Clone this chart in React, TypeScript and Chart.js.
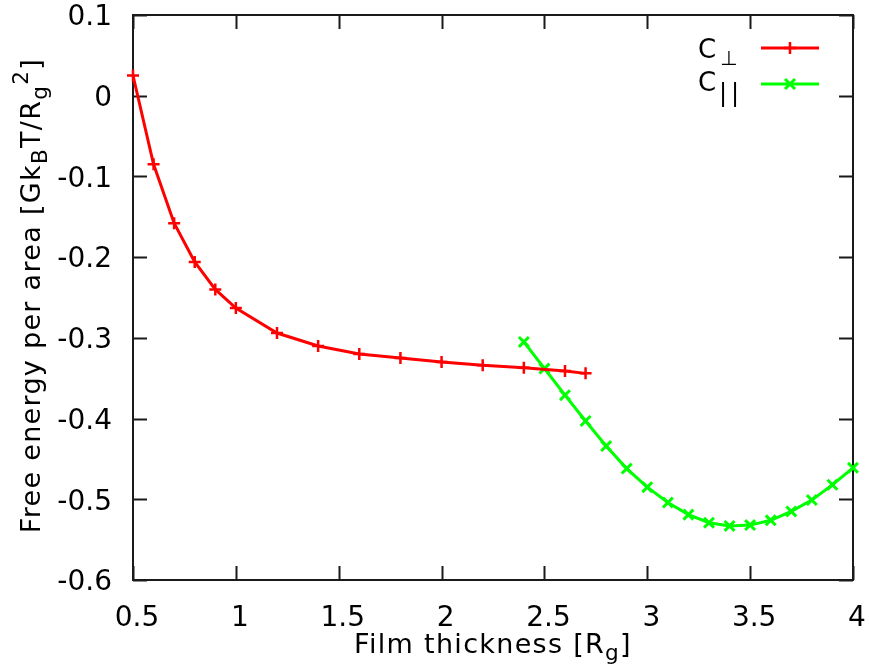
import React, { useEffect, useRef } from "react";
import { Chart, registerables } from "chart.js";

Chart.register(...registerables);

// ---- data ----
const perpX = [0.5, 0.6, 0.7, 0.8, 0.9, 1.0, 1.2, 1.4, 1.6, 1.8, 2.0, 2.2, 2.4, 2.6, 2.7];
const perpY = [0.025, -0.085, -0.158, -0.206, -0.240, -0.263, -0.294, -0.310, -0.320, -0.325, -0.330, -0.334, -0.337, -0.341, -0.344];

const paraX = [2.4, 2.5, 2.6, 2.7, 2.8, 2.9, 3.0, 3.1, 3.2, 3.3, 3.4, 3.5, 3.6, 3.7, 3.8, 3.9, 4.0];
const paraY = [-0.305, -0.338, -0.371, -0.403, -0.434, -0.462, -0.485, -0.504, -0.519, -0.529, -0.533, -0.532, -0.526, -0.515, -0.501, -0.482, -0.461];

const xTicks = [0.5, 1, 1.5, 2, 2.5, 3, 3.5, 4];
const yTicks = [-0.6, -0.5, -0.4, -0.3, -0.2, -0.1, 0, 0.1];

const FONT = '"DejaVu Sans", "Noto Sans", sans-serif';
const RED = "#ff0000";
const GREEN = "#00ff00";
const AXIS = "#1a1a1a";

type Seg = { t: string; m?: "sub" | "sup" };

function drawRich(ctx: CanvasRenderingContext2D, segs: Seg[], cx: number, baseY: number, size: number, align: "center" | "left" = "center", spacing = 1.3) {
  (ctx as any).letterSpacing = `${spacing}px`;
  const parts = segs.map((s) => {
    const sz = s.m ? size * 0.8 : size;
    ctx.font = `${sz}px ${FONT}`;
    return { ...s, sz, w: ctx.measureText(s.t).width };
  });
  const total = parts.reduce((a, p) => a + p.w, 0);
  let x = align === "center" ? cx - total / 2 : cx;
  ctx.textAlign = "left";
  ctx.textBaseline = "alphabetic";
  ctx.fillStyle = "#000";
  for (const p of parts) {
    ctx.font = `${p.sz}px ${FONT}`;
    const dy = p.m === "sub" ? size * 0.27 : p.m === "sup" ? -size * 0.45 : 0;
    ctx.fillText(p.t, x, baseY + dy);
    x += p.w;
  }
  (ctx as any).letterSpacing = "0px";
}

const decor = {
  id: "decor",
  beforeDatasetsDraw(chart: any) {
    const { ctx, chartArea: a, scales } = chart;
    ctx.save();
    ctx.strokeStyle = AXIS;
    ctx.lineWidth = 2;
    ctx.strokeRect(a.left, a.top, a.right - a.left, a.bottom - a.top);
    const tl = 14;
    ctx.beginPath();
    for (const v of xTicks) {
      const px = Math.round(scales.x.getPixelForValue(v)) + 0.5;
      ctx.moveTo(px, a.bottom);
      ctx.lineTo(px, a.bottom - tl);
      ctx.moveTo(px, a.top);
      ctx.lineTo(px, a.top + tl);
    }
    for (const v of yTicks) {
      const py = Math.round(scales.y.getPixelForValue(v)) + 0.5;
      ctx.moveTo(a.left, py);
      ctx.lineTo(a.left + tl, py);
      ctx.moveTo(a.right, py);
      ctx.lineTo(a.right - tl, py);
    }
    ctx.stroke();
    ctx.restore();
  },
  afterDraw(chart: any) {
    const { ctx, chartArea: a } = chart;
    ctx.save();
    // axis titles
    drawRich(ctx, [{ t: "Film thickness [R" }, { t: "g", m: "sub" }, { t: "]" }], (a.left + a.right) / 2, 653, 27);
    ctx.save();
    ctx.translate(40, (a.top + a.bottom) / 2 - 2);
    ctx.rotate(-Math.PI / 2);
    drawRich(
      ctx,
      [
        { t: "Free energy per area [Gk" },
        { t: "B", m: "sub" },
        { t: "T/R" },
        { t: "g", m: "sub" },
        { t: "2", m: "sup" },
        { t: "]" },
      ],
      0,
      0,
      27
    );
    ctx.restore();

    // legend
    const lx0 = a.right - 92;
    const lx1 = a.right - 34;
    const mx = (lx0 + lx1) / 2;
    const y1 = a.top + 33;
    const y2 = a.top + 69;
    drawRich(ctx, [{ t: "C" }], 698, 58, 26, "left", 0);
    ctx.font = `20px ${FONT}`;
    ctx.fillText("\u22A5", 720, 65);
    drawRich(ctx, [{ t: "C" }], 698, 91, 26, "left", 0);
    // subscript "||" of C|| kept as real text glyphs
    ctx.fillStyle = "#000";
    ctx.font = `24px ${FONT}`;
    ctx.fillText("|", 719, 101);
    ctx.fillText("|", 731, 101);

    ctx.lineWidth = 3;
    ctx.strokeStyle = RED;
    ctx.beginPath();
    ctx.moveTo(lx0, y1);
    ctx.lineTo(lx1, y1);
    ctx.stroke();
    ctx.lineWidth = 2.5;
    ctx.beginPath();
    ctx.moveTo(mx - 6, y1);
    ctx.lineTo(mx + 6, y1);
    ctx.moveTo(mx, y1 - 6);
    ctx.lineTo(mx, y1 + 6);
    ctx.stroke();

    ctx.lineWidth = 3;
    ctx.strokeStyle = GREEN;
    ctx.beginPath();
    ctx.moveTo(lx0, y2);
    ctx.lineTo(lx1, y2);
    ctx.stroke();
    ctx.lineWidth = 3;
    ctx.beginPath();
    ctx.moveTo(mx - 5, y2 - 5);
    ctx.lineTo(mx + 5, y2 + 5);
    ctx.moveTo(mx - 5, y2 + 5);
    ctx.lineTo(mx + 5, y2 - 5);
    ctx.stroke();
    ctx.restore();
  },
};

const fmt = (v: number) => String(Number(v.toFixed(2)));

const noPad = (s: any) => {
  s.paddingTop = 0;
  s.paddingBottom = 0;
  s.paddingLeft = 0;
  s.paddingRight = 0;
};

export default function App() {
  const ref = useRef<HTMLCanvasElement | null>(null);
  useEffect(() => {
    if (!ref.current) return;
    const chart = new Chart(ref.current, {
      type: "line",
      data: {
        datasets: [
          {
            label: "C\u22A5",
            data: perpX.map((x, i) => ({ x, y: perpY[i] })),
            borderColor: RED,
            backgroundColor: RED,
            borderWidth: 3,
            pointStyle: "cross",
            pointRadius: 6,
            pointBorderWidth: 2.5,
            pointBorderColor: RED,
            tension: 0,
            clip: false as any,
          },
          {
            label: "C||",
            data: paraX.map((x, i) => ({ x, y: paraY[i] })),
            borderColor: GREEN,
            backgroundColor: GREEN,
            borderWidth: 3,
            pointStyle: "crossRot",
            pointRadius: 7,
            pointBorderWidth: 3,
            pointBorderColor: GREEN,
            tension: 0,
            clip: false as any,
          },
        ],
      },
      options: {
        animation: false,
        responsive: false,
        devicePixelRatio: 1,
        layout: { padding: { left: 0, right: 16, top: 15, bottom: 0 } },
        plugins: { legend: { display: false }, tooltip: { enabled: false } },
        scales: {
          x: {
            type: "linear",
            min: 0.5,
            max: 4,
            afterBuildTicks: (s: any) => {
              s.ticks = xTicks.map((value) => ({ value }));
            },
            afterFit: (s: any) => {
              s.height = 91;
              noPad(s);
            },
            grid: { display: false, drawTicks: false },
            border: { display: false },
            ticks: {
              color: "#000",
              padding: 25,
              labelOffset: 4,
              maxRotation: 0,
              autoSkip: false,
              font: { family: FONT, size: 28, lineHeight: 1 },
              callback: (v: any) => fmt(Number(v)),
            },
          },
          y: {
            type: "linear",
            min: -0.6,
            max: 0.1,
            afterBuildTicks: (s: any) => {
              s.ticks = yTicks.map((value) => ({ value }));
            },
            afterFit: (s: any) => {
              s.width = 133;
              noPad(s);
            },
            grid: { display: false, drawTicks: false },
            border: { display: false },
            ticks: {
              color: "#000",
              padding: 21,
              labelOffset: 3,
              autoSkip: false,
              font: { family: FONT, size: 28, lineHeight: 1 },
              callback: (v: any) => fmt(Number(v)),
            },
          },
        },
      },
      plugins: [decor],
    });
    return () => chart.destroy();
  }, []);
  return (
    <div style={{ position: "absolute", left: 0, top: 0, width: 869, height: 671, background: "#fff" }}>
      <canvas ref={ref} width={869} height={671} style={{ display: "block" }} />
    </div>
  );
}
